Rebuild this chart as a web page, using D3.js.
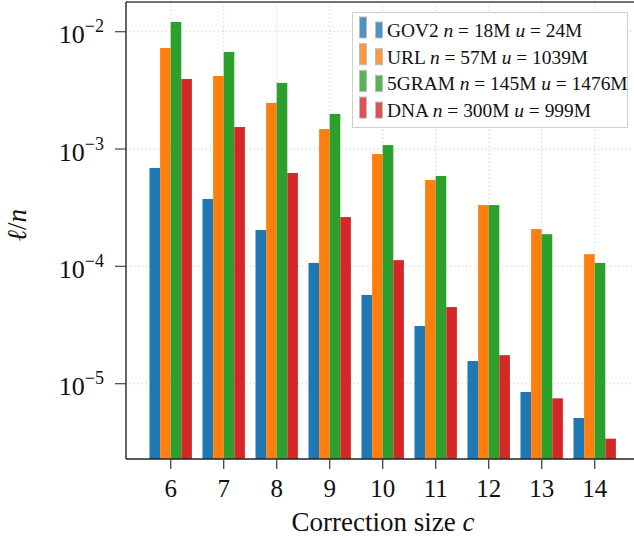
<!DOCTYPE html>
<html>
<head>
<meta charset="utf-8">
<script src="https://cdn.jsdelivr.net/npm/d3@7"></script>
<style>
  html, body { margin: 0; padding: 0; background: #fff; }
  svg { display: block; }
</style>
</head>
<body>
<svg id="chart" width="634" height="538"></svg>
<script>
// ---- data ----
const corrections = [6, 7, 8, 9, 10, 11, 12, 13, 14];
const seriesNames = ["GOV2", "URL", "5GRAM", "DNA"];
const seriesN = ["18M", "57M", "145M", "300M"];
const seriesU = ["24M", "1039M", "1476M", "999M"];
const gov2  = [6.9e-4, 3.75e-4, 2.04e-4, 1.07e-4, 5.7e-5, 3.1e-5, 1.56e-5, 8.5e-6, 5.1e-6];
const url   = [7.26e-3, 4.19e-3, 2.47e-3, 1.48e-3, 9.06e-4, 5.44e-4, 3.33e-4, 2.08e-4, 1.27e-4];
const gram5 = [1.21e-2, 6.72e-3, 3.66e-3, 1.99e-3, 1.08e-3, 5.89e-4, 3.33e-4, 1.88e-4, 1.07e-4];
const dna   = [3.95e-3, 1.54e-3, 6.25e-4, 2.63e-4, 1.13e-4, 4.5e-5, 1.75e-5, 7.5e-6, 3.4e-6];
const yTickExps = [-2, -3, -4, -5];
const colors = ["#1f77b4", "#ff7f0e", "#2ca02c", "#d62728"];

(function () {
const series = [gov2, url, gram5, dna];
const FONT = "'Liberation Serif', 'Times New Roman', 'DejaVu Serif', serif";

// ---- layout ----
const svg = d3.select("#chart").attr("font-family", FONT);
const mLeft = 126, mTop = 2, mBottom = 459;
const pad = 0.8434;
const x = d3.scaleLinear()
  .domain([d3.min(corrections) - pad, d3.max(corrections) + pad])
  .range([mLeft, 639.4]);
const y = d3.scaleLog()
  .domain([Math.pow(10, -5.642), Math.pow(10, -1.747)])
  .range([mBottom, mTop]);
const barW = 0.2; // in x units

const plot = svg.append("g");

// grid
const gridStyle = g => g.attr("stroke", "#c4c4c4").attr("stroke-width", 1)
  .attr("stroke-dasharray", "1,3");
plot.append("g").selectAll("line").data(corrections).join("line")
  .attr("x1", d => x(d)).attr("x2", d => x(d))
  .attr("y1", mTop).attr("y2", mBottom)
  .call(gridStyle);
plot.append("g").selectAll("line").data(yTickExps).join("line")
  .attr("x1", mLeft).attr("x2", 634)
  .attr("y1", d => y(Math.pow(10, d))).attr("y2", d => y(Math.pow(10, d)))
  .call(gridStyle);

// bars
series.forEach((vals, si) => {
  plot.append("g").attr("fill", colors[si])
    .selectAll("rect").data(vals).join("rect")
    .attr("x", (v, i) => x(corrections[i] + (si - 2) * barW))
    .attr("width", x(barW) - x(0))
    .attr("y", v => y(v))
    .attr("height", v => mBottom - y(v));
});

// frame
svg.append("line").attr("x1", mLeft).attr("x2", 634).attr("y1", mTop).attr("y2", mTop)
  .attr("stroke", "#444").attr("stroke-width", 1.5);
svg.append("line").attr("x1", mLeft).attr("x2", 634).attr("y1", mBottom).attr("y2", mBottom)
  .attr("stroke", "#222").attr("stroke-width", 1.3);
svg.append("line").attr("x1", mLeft).attr("x2", mLeft).attr("y1", mTop).attr("y2", mBottom)
  .attr("stroke", "#111").attr("stroke-width", 1.3);

// y axis ticks & labels
const yAxis = svg.append("g");
yTickExps.forEach(e => {
  const yy = y(Math.pow(10, e));
  yAxis.append("line").attr("x1", mLeft - 11).attr("x2", mLeft).attr("y1", yy).attr("y2", yy)
    .attr("stroke", "#555").attr("stroke-width", 1.3);
  const t = yAxis.append("text").attr("x", 104).attr("y", yy + 11.5)
    .attr("text-anchor", "end").attr("fill", "#111").style("font-size", "26px");
  t.append("tspan").text("10");
  t.append("tspan").attr("dy", -11).style("font-size", "18px").text("\u2212" + Math.abs(e));
});

// x axis ticks & labels
const xAxis = svg.append("g");
corrections.forEach(c => {
  xAxis.append("line").attr("x1", x(c)).attr("x2", x(c)).attr("y1", mBottom).attr("y2", mBottom + 10)
    .attr("stroke", "#444").attr("stroke-width", 1.3);
  xAxis.append("text").attr("x", x(c)).attr("y", 497).attr("text-anchor", "middle")
    .attr("fill", "#111").style("font-size", "25px").text(c);
});

// axis titles
const xt = svg.append("text").attr("x", 383).attr("y", 531).attr("text-anchor", "middle")
  .attr("fill", "#111").style("font-size", "27px");
xt.append("tspan").text("Correction size ");
xt.append("tspan").style("font-style", "italic").text("c");

const yt = svg.append("text").attr("transform", "translate(26,225) rotate(-90)")
  .attr("text-anchor", "middle").attr("fill", "#111").style("font-size", "27px");
yt.append("tspan").style("font-style", "italic").text("\u2113");
yt.append("tspan").text("/");
yt.append("tspan").style("font-style", "italic").text("n");

// legend
const lg = svg.append("g");
lg.append("rect").attr("x", 352.5).attr("y", 12.5).attr("width", 275).attr("height", 115)
  .attr("fill", "#fff").attr("stroke", "#cfcfcf").attr("stroke-width", 1);
seriesNames.forEach((name, i) => {
  const base = 37 + i * 26.7;
  lg.append("rect").attr("x", 359.5).attr("y", base - 20).attr("width", 7).attr("height", 21)
    .attr("fill", colors[i]).attr("fill-opacity", 0.8).attr("stroke", "#bbb").attr("stroke-width", 1);
  lg.append("rect").attr("x", 375.5).attr("y", base - 15).attr("width", 7).attr("height", 16)
    .attr("fill", colors[i]).attr("fill-opacity", 0.8).attr("stroke", "#bbb").attr("stroke-width", 1);
  const t = lg.append("text").attr("x", 387).attr("y", base).attr("fill", "#111")
    .style("font-size", "19.4px");
  t.append("tspan").text(name + " ");
  t.append("tspan").style("font-style", "italic").text("n");
  t.append("tspan").text(" = " + seriesN[i] + " ");
  t.append("tspan").style("font-style", "italic").text("u");
  t.append("tspan").text(" = " + seriesU[i]);
});
})();
</script>
</body>
</html>
